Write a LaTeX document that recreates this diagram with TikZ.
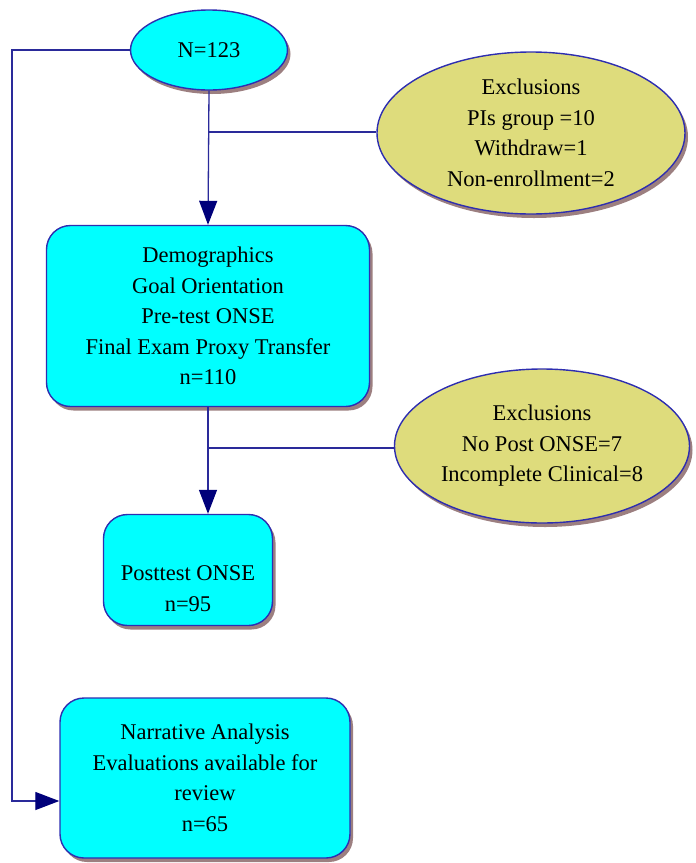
\documentclass[tikz,border=0pt]{standalone}
\usepackage{fontspec}
\setmainfont{Liberation Serif}
\usetikzlibrary{arrows.meta,shapes.geometric,shadows,positioning}

\definecolor{boxfill}{HTML}{00FFFF}
\definecolor{exclfill}{HTML}{DEDC7C}
\definecolor{edge}{HTML}{2E2EB0}
\definecolor{wire}{HTML}{2A2A9A}
\definecolor{tipc}{HTML}{00007A}
\definecolor{shade}{HTML}{9C7F80}

\begin{document}
\begin{tikzpicture}[x=1pt, y=-1pt,
  shad/.style={drop shadow={shadow xshift=3pt, shadow yshift=-4pt, fill=shade, opacity=1}},
  box/.style={rectangle, rounded corners=24pt, draw=edge, fill=boxfill,
              line width=1.4pt, align=center, inner sep=0pt, shad,
              font=\fontsize{22.5}{30.5}\selectfont},
  oval/.style={ellipse, draw=edge, fill=boxfill, line width=1.4pt,
               align=center, inner sep=0pt, shad,
               font=\fontsize{22.5}{30.5}\selectfont},
  excl/.style={oval, fill=exclfill},
  >={Triangle[length=24pt, width=18pt, color=tipc]},
  line width=1.3pt, draw=wire
]
  \useasboundingbox (0,0) rectangle (696,863);

  \node[oval, minimum width=157pt, minimum height=80pt] (total) at (209,50) {N=123};
  \node[excl, minimum width=308pt, minimum height=162pt] (excla) at (531,133)
    {Exclusions\\PIs group =10\\Withdraw=1\\Non-enrollment=2};
  \node[box, minimum width=323pt, minimum height=181pt] (demo) at (208,316)
    {Demographics\\Goal Orientation\\Pre-test ONSE\\Final Exam Proxy Transfer\\n=110};
  \node[excl, minimum width=295pt, minimum height=154pt] (exclb) at (542,446)
    {Exclusions\\No Post ONSE=7\\Incomplete Clinical=8};
  \node[box, minimum width=169pt, minimum height=111pt] (post) at (188,570)
    {\mbox{}\\[22pt]Posttest ONSE\\n=95};
  \node[box, minimum width=290pt, minimum height=160pt] (narr) at (205,778)
    {Narrative Analysis\\Evaluations available for\\review\\n=65};

  \coordinate (side) at (12,50);
  \coordinate (joina) at (209,132);
  \coordinate (joinb) at (209,448);

  \draw[->] (total.south) -- (demo.north);
  \draw (joina) -- (joina -| excla.west);
  \draw[->] (demo.south) -- (demo.south |- post.north);
  \draw (joinb) -- (joinb -| exclb.west);
  \draw[->] (total.west) -- (side) |- ([yshift=-23pt]narr.west);
\end{tikzpicture}
\end{document}
